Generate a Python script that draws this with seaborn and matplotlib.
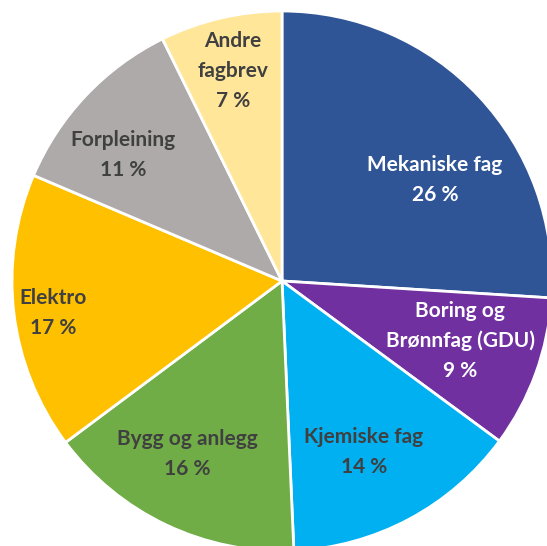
import matplotlib
matplotlib.use("Agg")
import matplotlib.pyplot as plt
import seaborn as sns

categories = ["Mekaniske fag", "Boring og\nBrønnfag (GDU)", "Kjemiske fag", "Bygg og anlegg",
              "Elektro", "Forpleining", "Andre\nfagbrev"]
values = [26.0, 9.1, 14.2, 15.5, 16.6, 11.3, 7.3]
colors = ["#2F5597", "#7030A0", "#00B0F0", "#70AD47", "#FFC000", "#AEAAAA", "#FFE699"]
text_colors = ["white", "white", "#404040", "#404040", "#404040", "#404040", "#404040"]
# label centres in pixel space (x, y from top)
label_px = [(435, 180), (460, 341), (364, 452), (187, 454), (53, 313), (123, 155), (233, 71)]

sns.set_style("white")
plt.rcParams['font.family'] = ['Lato', 'DejaVu Sans']

W, H = 547, 546
fig = plt.figure(figsize=(W / 100, H / 100), dpi=100)
ax = fig.add_axes([0, 0, 1, 1])
cx, cy, R = 282, 281, 270
ax.pie(values, colors=sns.color_palette(colors), startangle=90, counterclock=False,
       radius=1, center=(0, 0), wedgeprops=dict(edgecolor="white", linewidth=2))
ax.set_xlim(-cx / R, (W - cx) / R)
ax.set_ylim(-(H - cy) / R, cy / R)
ax.set_aspect("equal", adjustable="datalim")
ax.axis("off")

for cat, v, tc, (px, py) in zip(categories, values, text_colors, label_px):
    fig.text(px / W, 1 - py / H, f"{cat}\n{int(v + 0.5)} %", ha="center", va="center",
             color=tc, fontsize=15, fontweight="bold", linespacing=1.6)

fig.savefig("out.png", dpi=100)
